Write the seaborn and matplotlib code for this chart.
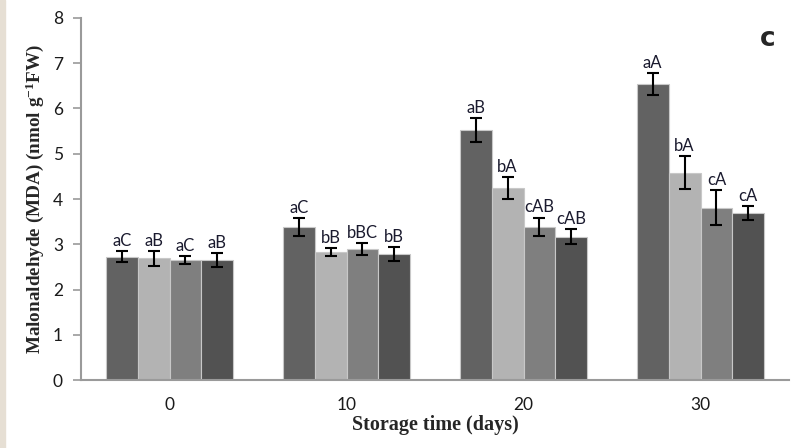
import numpy as np
import pandas as pd
import matplotlib.pyplot as plt
import seaborn as sns

# data
days = ["0", "10", "20", "30"]
treatments = ["T1", "T2", "T3", "T4"]
mda_t1 = [2.72, 3.38, 5.52, 6.54]
mda_t2 = [2.69, 2.82, 4.24, 4.58]
mda_t3 = [2.65, 2.90, 3.39, 3.81]
mda_t4 = [2.65, 2.79, 3.17, 3.69]
err_t1 = [0.12, 0.20, 0.26, 0.25]
err_t2 = [0.16, 0.09, 0.24, 0.37]
err_t3 = [0.08, 0.13, 0.20, 0.38]
err_t4 = [0.15, 0.15, 0.16, 0.15]
letters_t1 = ["aC", "aC", "aB", "aA"]
letters_t2 = ["aB", "bB", "bA", "bA"]
letters_t3 = ["aC", "bBC", "cAB", "cA"]
letters_t4 = ["aB", "bB", "cAB", "cA"]

colors = ["#626262", "#b3b3b3", "#7f7f7f", "#525252"]


def build_frame():
    rows = []
    vals = [mda_t1, mda_t2, mda_t3, mda_t4]
    errs = [err_t1, err_t2, err_t3, err_t4]
    labs = [letters_t1, letters_t2, letters_t3, letters_t4]
    for t, v, e, l in zip(treatments, vals, errs, labs):
        for d, vv, ee, ll in zip(days, v, e, l):
            rows.append({"day": d, "treatment": t, "mda": vv, "err": ee, "letter": ll})
    return pd.DataFrame(rows)


def plot_data(df):
    sns.set_style("white")
    plt.rcParams["font.family"] = ["Lato", "DejaVu Sans"]
    plt.rcParams["mathtext.fontset"] = "custom"
    plt.rcParams["mathtext.rm"] = "Liberation Serif:bold"
    plt.rcParams["mathtext.bf"] = "Liberation Serif:bold"
    plt.rcParams["mathtext.default"] = "bf"

    fig = plt.figure(figsize=(7.93, 4.48), dpi=100)
    ax = fig.add_axes([81 / 793, 68 / 448, 708 / 793, 362 / 448])

    # beige strip on the left edge
    fig.patches.append(plt.Rectangle((0, 0), 5 / 793, 1, transform=fig.transFigure,
                                     color="#e6dfd4", zorder=0))

    sns.barplot(data=df, x="day", y="mda", hue="treatment", order=days,
                hue_order=treatments, palette=colors, width=0.72, gap=0,
                errorbar=None, edgecolor="#c8c8c8", linewidth=0.8,
                legend=False, ax=ax)

    # error bars and significance letters
    for t, cont in zip(treatments, ax.containers):
        sub = df[df["treatment"] == t].set_index("day").loc[days]
        for bar, (_, r) in zip(cont, sub.iterrows()):
            xc = bar.get_x() + bar.get_width() / 2
            ax.errorbar(xc, r["mda"], yerr=r["err"], fmt="none", ecolor="black",
                        elinewidth=1.5, capsize=4.5, capthick=1.5, zorder=5)
            ax.annotate(r["letter"], (xc, r["mda"] + r["err"]), xytext=(0, 1.5),
                        textcoords="offset points", ha="center", va="bottom",
                        fontsize=12, color="#1a1a2e")

    ax.set_ylim(0, 8)
    ax.set_xlim(-0.5, 3.5)
    ax.set_yticks(range(0, 9))
    ax.set_xticks(range(4))
    ax.set_xticklabels(days)
    ax.set_xticks(np.arange(-0.5, 4, 1), minor=True)
    ax.tick_params(axis="x", which="major", length=0, pad=12, labelsize=12.5,
                   labelcolor="#1a1a1a")
    ax.tick_params(axis="x", which="minor", length=6, width=1.2, color="#9a9a9a",
                   direction="out")
    ax.tick_params(axis="y", length=6, width=1.2, color="#9a9a9a", direction="out",
                   pad=7, labelsize=12.5, labelcolor="#1a1a1a", left=True)

    for side in ["top", "right"]:
        ax.spines[side].set_visible(False)
    for side in ["left", "bottom"]:
        ax.spines[side].set_color("#9a9a9a")
        ax.spines[side].set_linewidth(1.5)

    ax.set_xlabel("Storage time (days)", family="Liberation Serif", fontweight="bold",
                  fontsize=14.5)
    ax.xaxis.set_label_coords(0.5, -0.098)
    ax.set_ylabel(r"Malonaldehyde (MDA) (nmol g$^{-1}$FW)", family="Liberation Serif",
                  fontweight="bold", fontsize=13.8, labelpad=5)

    fig.text(768 / 793, 1 - 39 / 448, "c", ha="center", va="center",
             fontsize=19, fontweight="bold", family=["DejaVu Sans"])

    fig.savefig("out.png", dpi=100)


def main():
    df = build_frame()
    plot_data(df)


if __name__ == "__main__":
    main()
